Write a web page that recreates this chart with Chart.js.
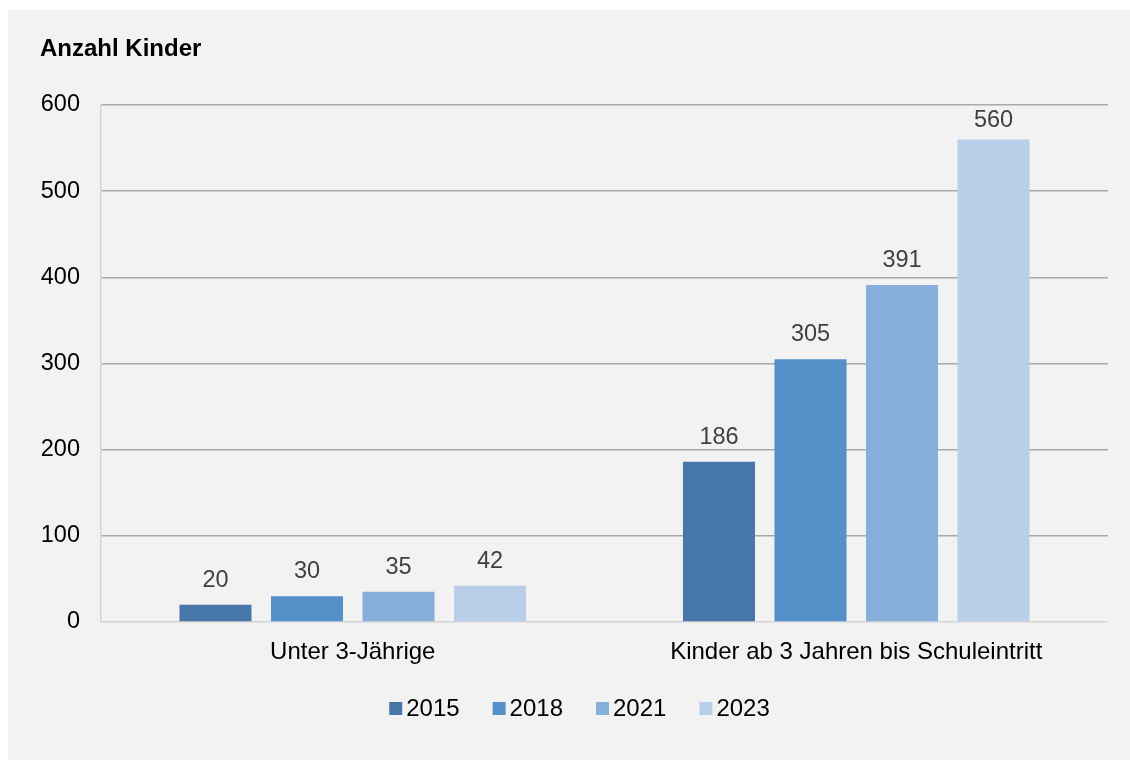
<!DOCTYPE html>
<html>
<head>
<meta charset="utf-8">
<script src="https://cdn.jsdelivr.net/npm/chart.js@4.4.1/dist/chart.umd.min.js"></script>
<style>
  html, body { margin: 0; padding: 0; background: #ffffff; }
  #panel { position: absolute; left: 8px; top: 10px; width: 1122px; height: 750px; background: #f2f2f2; }
  canvas { display: block; }
</style>
</head>
<body>
<div id="panel"><canvas id="c" width="1122" height="750"></canvas></div>
<script>
const categories = ["Unter 3-Jährige", "Kinder ab 3 Jahren bis Schuleintritt"];
const seriesNames = ["2015", "2018", "2021", "2023"];
const values2015 = [20, 186];
const values2018 = [30, 305];
const values2021 = [35, 391];
const values2023 = [42, 560];
const yTicks = [0, 100, 200, 300, 400, 500, 600];
const titleText = "Anzahl Kinder";
const colors = ["#4677a8", "#5591c8", "#86afdc", "#b8cee9"];

const FONT = "'Liberation Sans', Arial, Helvetica, sans-serif";
const seriesValues = [values2015, values2018, values2021, values2023];

const titlePlugin = {
  id: 'titleText',
  afterDraw(chart) {
    const ctx = chart.ctx;
    ctx.save();
    ctx.font = "bold 24px " + FONT;
    ctx.fillStyle = "#000000";
    ctx.textAlign = "left";
    ctx.textBaseline = "alphabetic";
    ctx.fillText(titleText, 32, 46);
    ctx.restore();
  }
};

const valueLabels = {
  id: 'valueLabels',
  afterDatasetsDraw(chart) {
    const ctx = chart.ctx;
    const top = chart.chartArea.top;
    ctx.save();
    ctx.font = "23.5px " + FONT;
    ctx.fillStyle = "#404040";
    ctx.textAlign = "center";
    ctx.textBaseline = "alphabetic";
    chart.data.datasets.forEach((ds, i) => {
      const meta = chart.getDatasetMeta(i);
      meta.data.forEach((el, j) => {
        const y = Math.max(el.y - 18, top + 21.7);
        ctx.fillText(String(ds.data[j]), el.x, y);
      });
    });
    ctx.restore();
  }
};

const legendPlugin = {
  id: 'customLegend',
  afterDraw(chart) {
    const ctx = chart.ctx;
    ctx.save();
    ctx.font = "24px " + FONT;
    ctx.textBaseline = "alphabetic";
    ctx.textAlign = "left";
    const box = 13, gapText = 4, gapItem = 33;
    const widths = chart.data.datasets.map(d => ctx.measureText(d.label).width);
    let total = 0;
    widths.forEach((w, i) => { total += box + gapText + w + (i < widths.length - 1 ? gapItem : 0); });
    let x = 571.5 - total / 2;
    chart.data.datasets.forEach((d, i) => {
      ctx.fillStyle = d.backgroundColor;
      ctx.fillRect(x, 692, box, box);
      ctx.fillStyle = "#000000";
      ctx.fillText(d.label, x + box + gapText, 706);
      x += box + gapText + widths[i] + gapItem;
    });
    ctx.restore();
  }
};

new Chart(document.getElementById('c'), {
  type: 'bar',
  data: {
    labels: categories,
    datasets: seriesNames.map((name, i) => ({
      label: name,
      data: seriesValues[i],
      backgroundColor: colors[i],
      borderWidth: 0,
      categoryPercentage: 0.727,
      barPercentage: 0.787
    }))
  },
  options: {
    responsive: false,
    animation: false,
    devicePixelRatio: 1,
    layout: { padding: { left: 0, right: 22, top: 95, bottom: 0 } },
    plugins: { legend: { display: false }, title: { display: false }, tooltip: { enabled: false } },
    scales: {
      x: {
        grid: { display: false, drawTicks: false },
        border: { display: false },
        ticks: { font: { family: FONT, size: 24 }, color: "#000000", padding: 16 },
        afterFit(scale) { scale.height = 138; }
      },
      y: {
        min: 0, max: 600,
        afterBuildTicks(scale) { scale.ticks = yTicks.map(v => ({ value: v })); },
        grid: {
          drawTicks: false,
          lineWidth: 1.5,
          color: (c) => (c.tick && c.tick.value === 0) ? "#d4d4d4" : "#a8a8a8"
        },
        border: { display: true, color: "#d4d4d4", width: 1.5 },
        ticks: { font: { family: FONT, size: 23.5 }, color: "#000000", padding: 21 },
        afterFit(scale) { scale.width = 93; }
      }
    }
  },
  plugins: [titlePlugin, valueLabels, legendPlugin]
});
</script>
</body>
</html>
